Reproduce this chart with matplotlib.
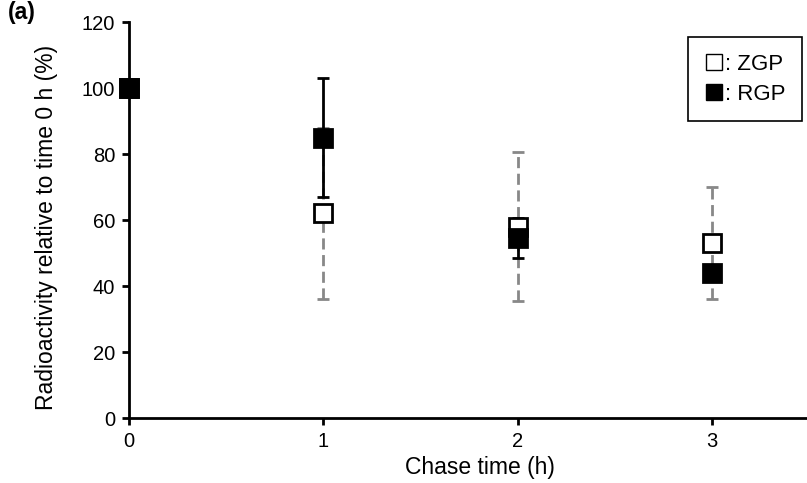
import matplotlib
matplotlib.use("Agg")
import matplotlib.pyplot as plt
from matplotlib.lines import Line2D

plt.rcParams['font.family'] = ['Liberation Sans', 'DejaVu Sans']

time_h = [0, 1, 2, 3]
zgp_mean = [100, 62, 58, 53]
zgp_err = [0, 26, 22.5, 17]
rgp_mean = [100, 85, 54.5, 44]
rgp_err = [0, 18, 6, 2]
y_ticks = [0, 20, 40, 60, 80, 100, 120]
x_ticks = [0, 1, 2, 3]

fig = plt.figure(figsize=(8.07, 4.83), dpi=100)
ax = fig.add_axes([129/807, 1 - 418/483, (807 - 129)/807, (418 - 22)/483])

# ZGP error bars (gray dashed)
eb = ax.errorbar(time_h, zgp_mean, yerr=zgp_err, fmt='none', ecolor='#888888',
                 elinewidth=2, capsize=4.5, capthick=2, zorder=2)
eb[2][0].set_linestyle((0, (4, 2)))
# RGP error bars (black)
ax.errorbar(time_h, rgp_mean, yerr=rgp_err, fmt='none', ecolor='black',
            elinewidth=2, capsize=4.5, capthick=2, zorder=3)
ax.plot(time_h, zgp_mean, linestyle='none', marker='s', markersize=12.5,
        markerfacecolor='white', markeredgecolor='black', markeredgewidth=2,
        zorder=4, clip_on=False)
ax.plot(time_h, rgp_mean, linestyle='none', marker='s', markersize=12.5,
        markerfacecolor='black', markeredgecolor='black', markeredgewidth=2,
        zorder=5, clip_on=False)

ax.set_xlim(0, 3.49)
ax.set_ylim(0, 120)
ax.set_xticks(x_ticks)
ax.set_yticks(y_ticks)
ax.spines['top'].set_visible(False)
ax.spines['right'].set_visible(False)
ax.spines['left'].set_linewidth(2)
ax.spines['bottom'].set_linewidth(2)
ax.tick_params(direction='out', length=5, width=2, labelsize=14.5, pad=5)
ax.set_xlabel('Chase time (h)', fontsize=16.5)
ax.set_ylabel('Radioactivity relative to time 0 h (%)', fontsize=16.5)
ax.xaxis.set_label_coords(0.518, -0.095)
ax.yaxis.set_label_coords(-0.105, 0.48)

handles = [Line2D([], [], linestyle='none', marker='s', markersize=12,
                  markerfacecolor='white', markeredgecolor='black', markeredgewidth=1),
           Line2D([], [], linestyle='none', marker='s', markersize=12,
                  markerfacecolor='black', markeredgecolor='black', markeredgewidth=1)]
leg = ax.legend(handles, [': ZGP', ': RGP'], loc='upper right',
                bbox_to_anchor=(0.993, 0.962), fontsize=16, fancybox=False,
                edgecolor='black', handlelength=0.8, handletextpad=0.1,
                borderpad=0.75, labelspacing=0.4, borderaxespad=0, framealpha=1)
leg.get_frame().set_linewidth(1.2)

fig.text(8/807, 1 - 13/483, '(a)', fontsize=16.5, fontweight='bold', va='center', ha='left')

fig.savefig('out.png', dpi=100)
